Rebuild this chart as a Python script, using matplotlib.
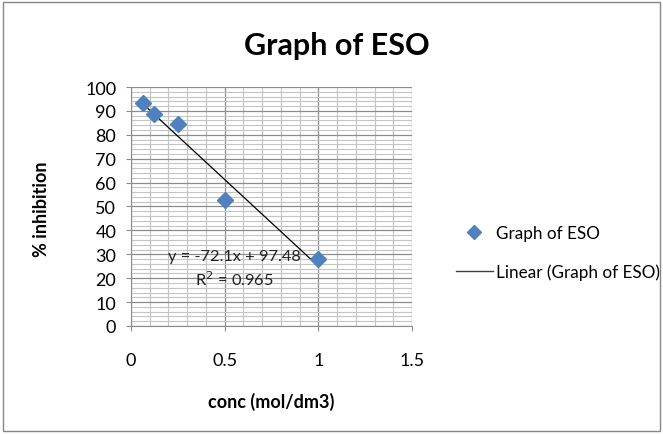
import matplotlib.pyplot as plt
from matplotlib.lines import Line2D
from matplotlib.patches import Rectangle
import numpy as np

conc = [0.0625, 0.125, 0.25, 0.5, 1.0]
inhibition = [93.5, 88.5, 84.5, 52.7, 28.0]
eq_text = "y = -72.1x + 97.48"
r2_text = "R$^2$ = 0.965"

plt.rcParams['font.family'] = ['Lato', 'DejaVu Sans']

fig = plt.figure(figsize=(6.63, 4.35), dpi=100)
fig.patches.append(Rectangle((0.004, 0.008), 0.992, 0.985, transform=fig.transFigure,
                             fill=False, edgecolor='#878787', linewidth=1))
ax = fig.add_axes([0.1976, 0.2483, 0.4238, 0.5494])

ax.set_xlim(0, 1.5)
ax.set_ylim(0, 100)
ax.set_xticks(np.arange(0, 1.51, 0.5))
ax.set_xticklabels(['0', '0.5', '1', '1.5'])
ax.set_yticks(np.arange(0, 101, 10))
ax.set_xticks(np.arange(0, 1.51, 0.1), minor=True)
ax.set_yticks(np.arange(0, 101, 2), minor=True)
ax.grid(which='minor', color='#c4c4c4', linewidth=0.8)
ax.grid(which='major', color='#8c8c8c', linewidth=0.9)
ax.set_axisbelow(True)
ax.tick_params(which='minor', length=0)
ax.tick_params(which='major', length=3.6, color='#8c8c8c', labelsize=13, pad=7)
ax.tick_params(axis='x', pad=15)
for s in ['top', 'right']:
    ax.spines[s].set_visible(False)
for s in ['left', 'bottom']:
    ax.spines[s].set_color('#8c8c8c')

# trendline
slope, intercept = np.polyfit(conc, inhibition, 1)
xs = np.array([min(conc), max(conc)])
ax.plot(xs, slope * xs + intercept, color='black', linewidth=0.9, zorder=3)
ax.plot(conc, inhibition, linestyle='none', marker='D', markersize=8,
        color='#4f81bd', zorder=4)

ax.text(0.553, 29.3, eq_text, fontsize=11.8, ha='center', va='center', color='#222222', zorder=5)
ax.text(0.553, 19.7, r2_text, fontsize=11.8, ha='center', va='center', color='#222222', zorder=5)

fig.text(0.508, 0.874, "Graph of ESO", fontsize=22, fontweight='bold', ha='center', va='baseline')
ax.set_xlabel("conc (mol/dm3)", fontsize=13, fontweight='bold', va='center', ha='center')
ax.set_ylabel("% inhibition", fontsize=13, fontweight='bold', va='center', ha='center')
ax.xaxis.set_label_coords(0.498, -0.314)
ax.yaxis.set_label_coords(-0.320, 0.494)

handles = [Line2D([], [], linestyle='none', marker='D', markersize=7, color='#4f81bd'),
           Line2D([], [], color='#404040', linewidth=1)]
fig.legend(handles, ["Graph of ESO", "Linear (Graph of ESO)"], loc='center left',
           bbox_to_anchor=(0.677, 0.418), frameon=False, fontsize=12.3,
           handlelength=2.2, labelspacing=1.3, handletextpad=0.15, borderaxespad=0)

fig.savefig("out.png", dpi=100)
